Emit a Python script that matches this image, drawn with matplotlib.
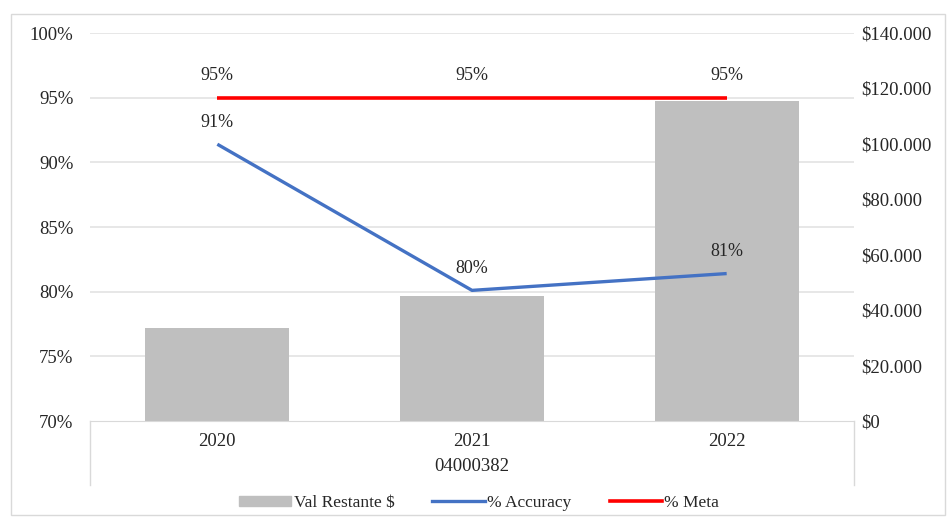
import matplotlib.pyplot as plt
from matplotlib.patches import Rectangle
from matplotlib.lines import Line2D
import numpy as np

years = ["2020", "2021", "2022"]
group_label = "04000382"
val_restante = [33500, 45000, 115500]
accuracy = [91.4, 80.1, 81.4]
meta = [95, 95, 95]

pct_ticks = [70, 75, 80, 85, 90, 95, 100]
usd_ticks = [0, 20000, 40000, 60000, 80000, 100000, 120000, 140000]

BAR_COLOR = "#BFBFBF"
BLUE = "#4472C4"
RED = "#FF0000"
GRID = "#E3E3E3"
TXT = "#262626"

plt.rcParams['font.family'] = ['Liberation Serif', 'DejaVu Serif']
plt.rcParams['font.size'] = 13.5

fig = plt.figure(figsize=(9.5, 5.22), dpi=100)

# outer chart frame
fig.patches.append(Rectangle((11 / 950, 1 - 515 / 522), 934 / 950, 501 / 522,
                             transform=fig.transFigure, fill=False,
                             edgecolor="#D9D9D9", linewidth=1))

ax = fig.add_axes([90 / 950, 1 - 421 / 522, 764 / 950, 388 / 522])
ax2 = ax.twinx()
x = np.arange(len(years))

PCT_LO, PCT_HI = 70, 100
USD_HI = 140000

# percent gridlines go on the bar axis so they stay behind the bars
for v in pct_ticks[1:]:
    ax2.axhline((v - PCT_LO) / (PCT_HI - PCT_LO) * USD_HI, color=GRID,
                linewidth=1.2, zorder=0)

ax2.bar(x, val_restante, width=0.565, color=BAR_COLOR, zorder=1)
ax2.set_ylim(0, USD_HI)
ax2.set_yticks(usd_ticks)
ax2.set_yticklabels(["$" + f"{v:,}".replace(",", ".") if v else "$0" for v in usd_ticks])

ax.set_ylim(PCT_LO, PCT_HI)
ax.set_xlim(-0.5, 2.5)
ax.set_yticks(pct_ticks)
ax.set_yticklabels([f"{v}%" for v in pct_ticks])

ax.set_zorder(ax2.get_zorder() + 1)
ax.patch.set_visible(False)

ax.plot(x, meta, color=RED, linewidth=2.6, solid_capstyle="butt", zorder=3)
ax.plot(x, accuracy, color=BLUE, linewidth=2.4, solid_capstyle="butt", zorder=4)

for xi, v in zip(x, meta):
    ax.annotate(f"{v:.0f}%", (xi, v), xytext=(0, 16), textcoords="offset points",
                ha="center", va="center", color=TXT, fontsize=13)
for xi, v in zip(x, accuracy):
    ax.annotate(f"{v:.0f}%", (xi, v), xytext=(0, 16), textcoords="offset points",
                ha="center", va="center", color=TXT, fontsize=13)

ax.set_xticks(x)
ax.set_xticklabels(years)
for a in (ax, ax2):
    for s in a.spines.values():
        s.set_visible(False)
    a.tick_params(length=0, colors=TXT)
ax.spines["bottom"].set_visible(True)
ax.spines["bottom"].set_color("#D9D9D9")
ax.tick_params(axis="y", pad=12)
ax.tick_params(axis="x", pad=9)
ax2.tick_params(axis="y", pad=5)

# group label under the years, with the side separators
ax.text(1, -0.117, group_label, transform=ax.get_xaxis_transform(),
        ha="center", va="center", color=TXT)
for xs in (-0.5, 2.5):
    ax.plot([xs, xs], [0, -0.165], transform=ax.get_xaxis_transform(),
            color="#D9D9D9", linewidth=1, clip_on=False)

handles = [Rectangle((0, 0), 1, 1, color=BAR_COLOR),
           Line2D([], [], color=BLUE, linewidth=2.4),
           Line2D([], [], color=RED, linewidth=2.6)]
fig.legend(handles, ["Val Restante $", "% Accuracy", "% Meta"],
           loc="center", bbox_to_anchor=(479 / 950, 1 - 503 / 522), ncol=3,
           frameon=False, handlelength=3.0, handleheight=0.55, handletextpad=0.15,
           columnspacing=2.2, labelcolor=TXT, fontsize=12.5)

fig.savefig("out.png", dpi=100)
